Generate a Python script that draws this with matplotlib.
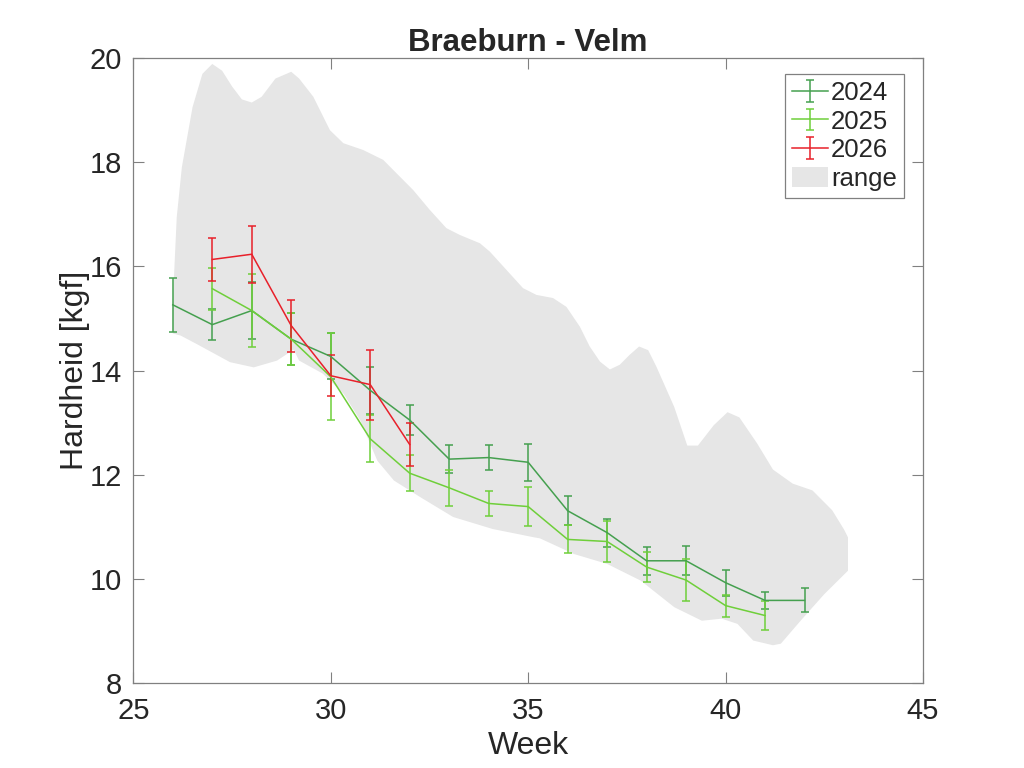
import numpy as np
import matplotlib
matplotlib.use("Agg")
import matplotlib.pyplot as plt
from matplotlib.legend_handler import HandlerErrorbar
from matplotlib.container import ErrorbarContainer

plt.rcParams['font.family'] = ['Liberation Sans', 'DejaVu Sans']

# ---- data ----
weeks_2024 = [26, 27, 28, 29, 30, 31, 32, 33, 34, 35, 36, 37, 38, 39, 40, 41, 42]
mean_2024 = [15.26, 14.88, 15.15, 14.60, 14.27, 13.62, 13.05, 12.30, 12.33, 12.24,
             11.31, 10.89, 10.35, 10.35, 9.93, 9.59, 9.59]
err_2024 = [0.52, 0.30, 0.55, 0.50, 0.44, 0.45, 0.28, 0.27, 0.24, 0.35,
            0.28, 0.27, 0.27, 0.28, 0.25, 0.17, 0.23]

weeks_2025 = [27, 28, 29, 30, 31, 32, 33, 34, 35, 36, 37, 38, 39, 40, 41]
mean_2025 = [15.57, 15.15, 14.60, 13.88, 12.69, 12.03, 11.75, 11.45, 11.39,
             10.76, 10.72, 10.23, 9.98, 9.49, 9.30]
err_2025 = [0.40, 0.70, 0.50, 0.83, 0.45, 0.35, 0.34, 0.24, 0.37,
            0.27, 0.40, 0.29, 0.40, 0.21, 0.27]

weeks_2026 = [27, 28, 29, 30, 31, 32]
mean_2026 = [16.13, 16.23, 14.86, 13.90, 13.73, 12.58]
err_2026 = [0.41, 0.55, 0.50, 0.39, 0.67, 0.41]

range_upper_week = [26.0, 26.1, 26.23, 26.5, 26.75, 27.0, 27.25, 27.5, 27.75, 28.0,
                    28.25, 28.6, 29.0, 29.2, 29.56, 29.98, 30.32, 30.82, 31.33,
                    31.5, 32.09, 32.51, 32.93, 33.27, 33.78, 34.03, 34.45, 34.87,
                    35.21, 35.63, 35.97, 36.31, 36.56, 36.82, 37.07, 37.32, 37.57,
                    37.81, 38.04, 38.25, 38.7, 39.03, 39.3, 39.7, 40.05, 40.35,
                    40.8, 41.2, 41.7, 42.2, 42.7, 43.0, 43.1]
range_upper_val = [15.3, 16.94, 17.9, 19.05, 19.69, 19.88, 19.75, 19.45, 19.2, 19.14,
                   19.25, 19.6, 19.73, 19.6, 19.25, 18.61, 18.36, 18.23, 18.04,
                   17.91, 17.46, 17.08, 16.73, 16.60, 16.44, 16.28, 15.93, 15.58,
                   15.45, 15.39, 15.22, 14.84, 14.46, 14.17, 14.02, 14.11, 14.30,
                   14.46, 14.39, 14.07, 13.3, 12.56, 12.56, 12.95, 13.2, 13.1,
                   12.6, 12.1, 11.83, 11.7, 11.32, 10.95, 10.8]

range_lower_week = [26.0, 26.2, 26.6, 27.45, 28.05, 28.64, 29.06, 29.2, 29.8, 30.33,
                    30.75, 31.18, 31.6, 32.27, 33.1, 34.1, 35.15, 35.3, 36.16,
                    37.0, 37.85, 38.7, 39.4, 39.9, 40.3, 40.7, 41.2, 41.4, 41.9,
                    42.5, 43.1]
range_lower_val = [14.71, 14.67, 14.51, 14.16, 14.06, 14.19, 14.40, 14.19, 13.94, 13.55,
                   13.04, 12.27, 11.89, 11.57, 11.19, 10.96, 10.80, 10.78, 10.48,
                   10.29, 9.97, 9.46, 9.20, 9.24, 9.14, 8.82, 8.73, 8.76, 9.2,
                   9.71, 10.16]

c2024 = '#45a04f'
c2025 = '#6fcf3a'
c2026 = '#e8202a'

fig = plt.figure(figsize=(10.24, 7.68), dpi=100)
ax = fig.add_axes([133.3/1024, 1-683.3/768, (923-133.3)/1024, (683.3-57.7)/768])

poly_x = list(range_upper_week) + list(range_lower_week[::-1])
poly_y = list(range_upper_val) + list(range_lower_val[::-1])
rng = ax.fill(poly_x, poly_y, color='#e6e6e6', lw=0, label='range', zorder=1)

kw = dict(capsize=3, elinewidth=1.1, capthick=1.1, lw=1.1, zorder=3)
e1 = ax.errorbar(weeks_2024, mean_2024, yerr=err_2024, color=c2024, label='2024', **kw)
e2 = ax.errorbar(weeks_2025, mean_2025, yerr=err_2025, color=c2025, label='2025', **kw)
e3 = ax.errorbar(weeks_2026, mean_2026, yerr=err_2026, color=c2026, label='2026', **kw)

ax.set_xlim(25, 45)
ax.set_ylim(8, 20)
ax.set_xticks([25, 30, 35, 40, 45])
ax.set_yticks([8, 10, 12, 14, 16, 18, 20])
ax.tick_params(direction='in', length=8, width=0.8, top=True, right=True,
               labelsize=21, colors='#808080', labelcolor='#262626')
ax.tick_params(axis='x', pad=10)
ax.tick_params(axis='y', pad=8)
for s in ax.spines.values():
    s.set_color('#808080')
    s.set_linewidth(0.9)

ax.set_xlabel('Week', fontsize=23, color='#262626', labelpad=4)
ax.set_ylabel('Hardheid [kgf]', fontsize=23, color='#262626', labelpad=0)
ax.set_title('Braeburn - Velm', fontsize=22.5, fontweight='bold', color='#262626', pad=5)

leg = ax.legend(handles=[e1, e2, e3, rng[0]], labels=['2024', '2025', '2026', 'range'],
                loc='upper right', bbox_to_anchor=(0.976, 0.974), fontsize=18.5,
                frameon=True, fancybox=False, edgecolor='#808080', framealpha=1,
                handlelength=1.4, handleheight=0.8, handletextpad=0.12,
                borderpad=0.28, labelspacing=0.18, borderaxespad=0,
                handler_map={ErrorbarContainer: HandlerErrorbar(xerr_size=0.3, yerr_size=0.42)})
leg.get_frame().set_linewidth(0.9)
for t in leg.get_texts():
    t.set_color('#262626')

fig.savefig('out.png', dpi=100)
